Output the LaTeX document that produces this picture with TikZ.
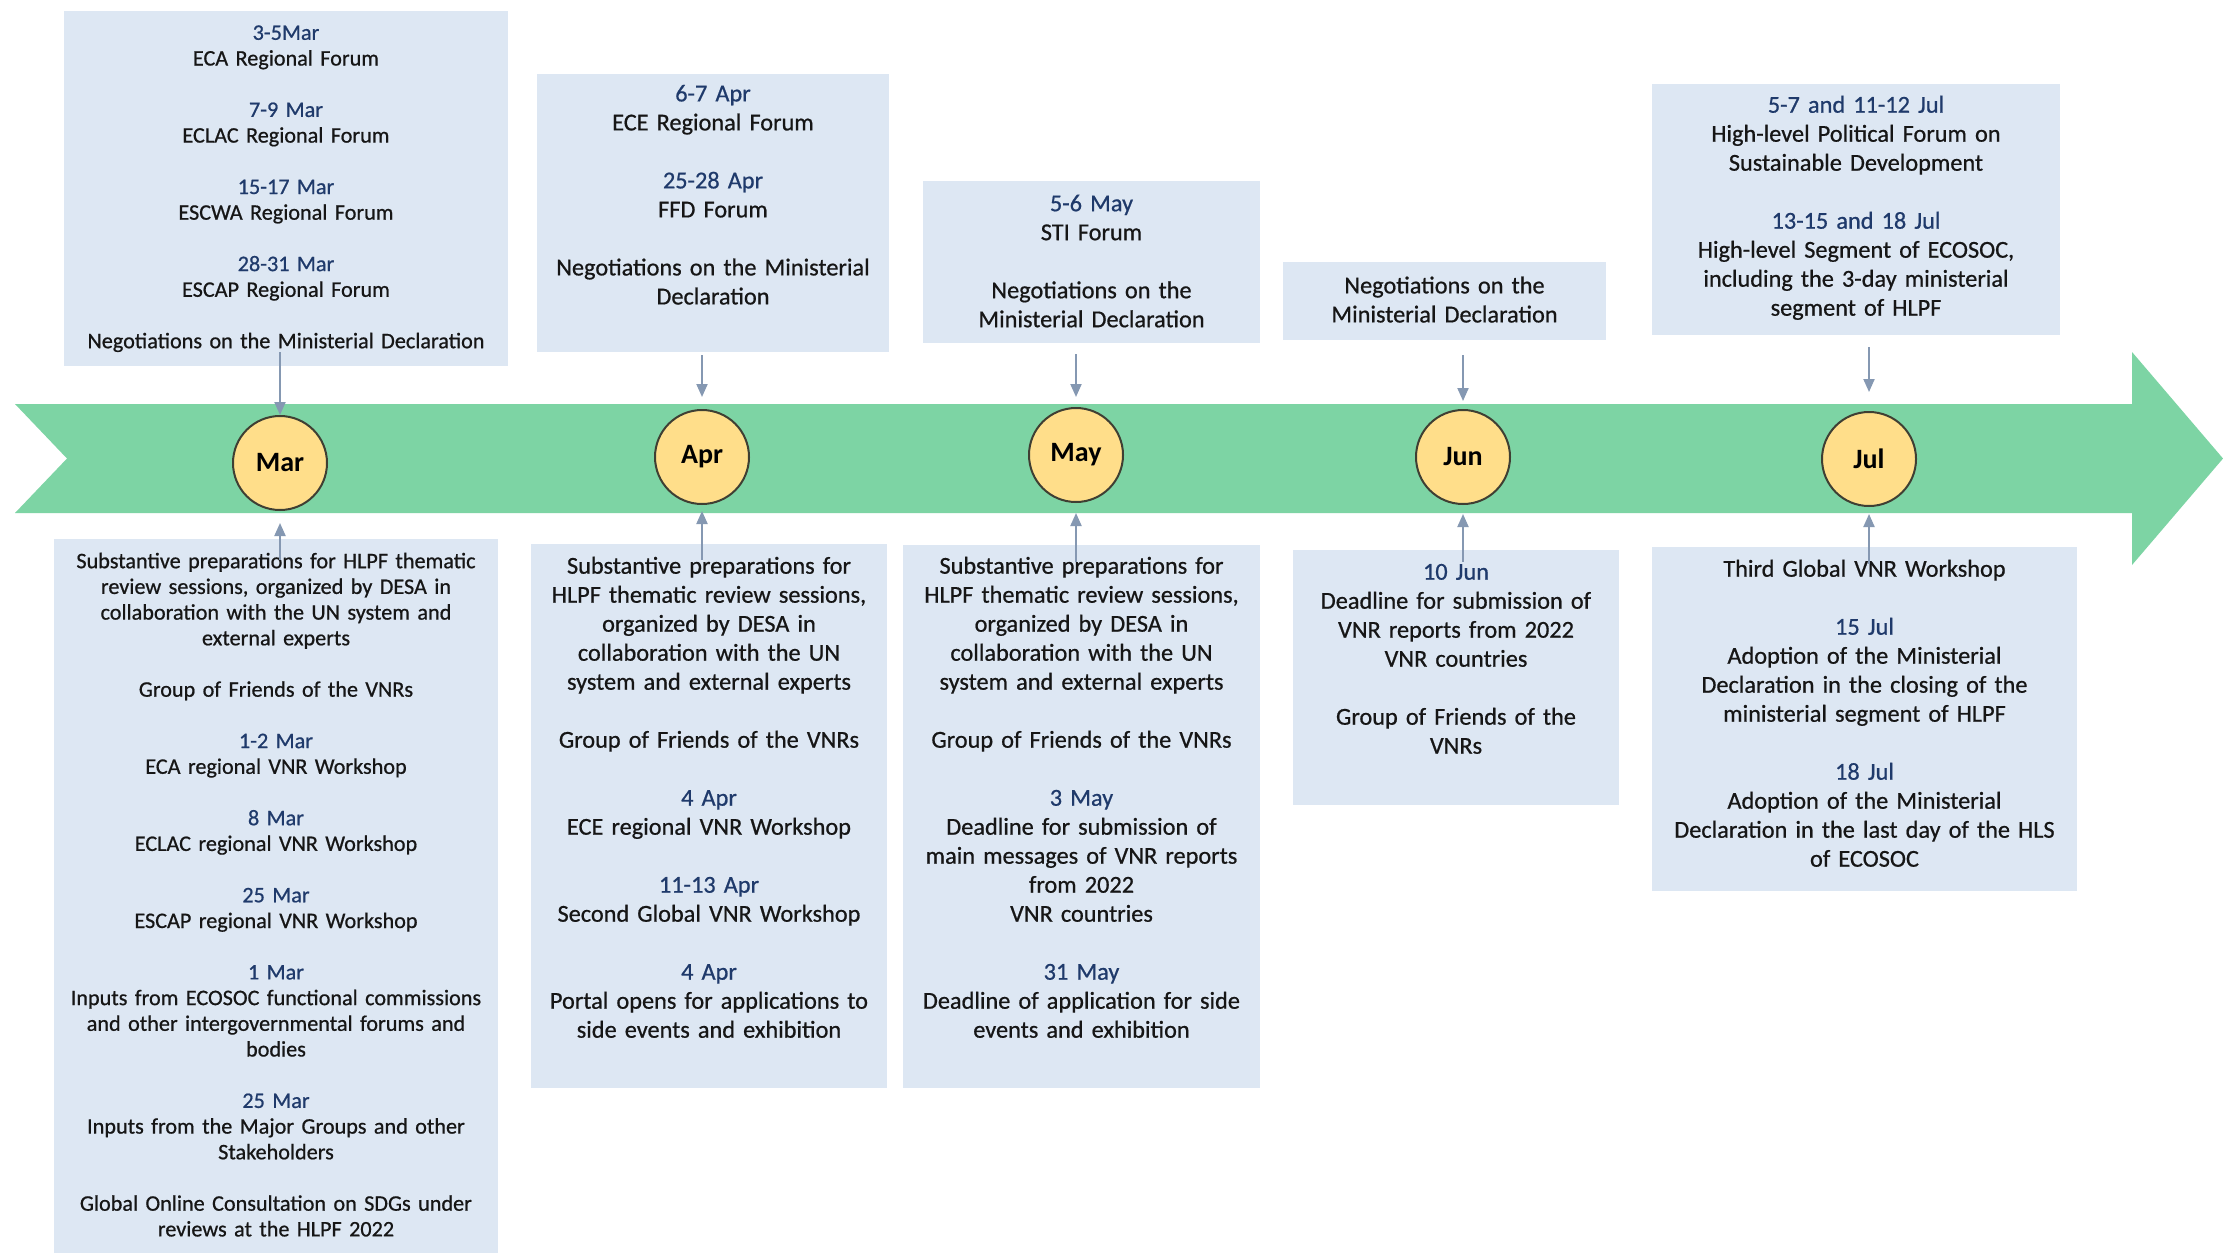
\documentclass[tikz,border=0pt]{standalone}
\usepackage{fontspec}
\setmainfont{Carlito}
\newfontfamily\boxfont{Carlito}[FakeBold=0.7]
\usetikzlibrary{arrows.meta,fit}
\definecolor{boxc}{HTML}{DDE7F3}
\definecolor{bandc}{HTML}{7DD4A4}
\definecolor{monc}{HTML}{FFDE8A}
\definecolor{monl}{HTML}{3F3F33}
\definecolor{arrc}{HTML}{8598B2}
\definecolor{datec}{HTML}{1F3A6B}
\definecolor{txtc}{HTML}{161616}
\newcommand{\dt}[1]{\textcolor{datec}{#1}}
\newcommand{\bl}{\\[\baselineskip]}
\begin{document}
\begin{tikzpicture}[x=1pt,y=-1pt,
  box/.style={fill=boxc, draw=none, inner sep=0pt},
  txtS/.style={anchor=base, align=center, text=txtc, inner sep=0pt, font=\boxfont\fontsize{22.2}{25.7}\selectfont},
  txtL/.style={anchor=base, align=center, text=txtc, inner sep=0pt, font=\boxfont\fontsize{24.3}{29}\selectfont},
  mon/.style={circle, fill=monc, draw=monl, line width=2pt, minimum size=94pt, inner sep=0pt, text=black, font=\bfseries\fontsize{28}{30}\selectfont},
  arr/.style={draw=arrc, line width=2pt, -{Triangle[length=13pt,width=11pt]}}]
\fill[white] (0,0) rectangle (2223,1253);
\useasboundingbox (0,0) rectangle (2223,1253);
% band
\fill[bandc] (15,404) -- (2132,404) -- (2132,352) -- (2223,458.5) -- (2132,565) -- (2132,513) -- (15,513) -- (67,458.5) -- cycle;
% boxes
\node[box, fit={(64,11) (508,366)}] (marT) {};
\node[box, fit={(537,74) (889,352)}] (aprT) {};
\node[box, fit={(923,181) (1260,343)}] (mayT) {};
\node[box, fit={(1283,262) (1606,340)}] (junT) {};
\node[box, fit={(1652,84) (2060,335)}] (julT) {};
\node[box, fit={(54,539) (498,1253)}] (marB) {};
\node[box, fit={(531,544) (887,1088)}] (aprB) {};
\node[box, fit={(903,545) (1260,1088)}] (mayB) {};
\node[box, fit={(1293,550) (1619,805)}] (junB) {};
\node[box, fit={(1652,547) (2077,891)}] (julB) {};
% texts
\node[txtS, text width=436pt] (marTt) at (286,39.8) {\dt{3-5Mar}\\ ECA Regional Forum\bl \dt{7-9 Mar}\\ ECLAC Regional Forum\bl \dt{15-17 Mar}\\ ESCWA Regional Forum\bl \dt{28-31 Mar}\\ ESCAP Regional Forum\bl Negotiations on the Ministerial Declaration};
\node[txtL, text width=344pt] (aprTt) at (713,101.4) {\dt{6-7 Apr}\\ ECE Regional Forum\bl \dt{25-28 Apr}\\ FFD Forum\bl Negotiations on the Ministerial\\ Declaration};
\node[txtL, text width=330pt] (mayTt) at (1091.5,211.2) {\dt{5-6 May}\\ STI Forum\bl Negotiations on the\\ Ministerial Declaration};
\node[txtL, text width=316pt] (junTt) at (1444.5,293.4) {Negotiations on the\\ Ministerial Declaration};
\node[txtL, text width=400pt] (julTt) at (1856,112.7) {\dt{5-7 and 11-12 Jul}\\ High-level Political Forum on\\ Sustainable Development\bl \dt{13-15 and 18 Jul}\\ High-level Segment of ECOSOC,\\ including the 3-day ministerial\\ segment of HLPF};
\node[txtS, text width=436pt] (marBt) at (276,568.2) {Substantive preparations for HLPF thematic\\ review sessions, organized by DESA in\\ collaboration with the UN system and\\ external experts\bl Group of Friends of the VNRs\bl \dt{1-2 Mar}\\ ECA regional VNR Workshop\bl \dt{8 Mar}\\ ECLAC regional VNR Workshop\bl \dt{25 Mar}\\ ESCAP regional VNR Workshop\bl \dt{1 Mar}\\ Inputs from ECOSOC functional commissions\\ and other intergovernmental forums and\\ bodies\bl \dt{25 Mar}\\ Inputs from the Major Groups and other\\ Stakeholders\bl Global Online Consultation on SDGs under\\ reviews at the HLPF 2022};
\node[txtL, text width=350pt] (aprBt) at (709,573.7) {Substantive preparations for\\ HLPF thematic review sessions,\\ organized by DESA in\\ collaboration with the UN\\ system and external experts\bl Group of Friends of the VNRs\bl \dt{4 Apr}\\ ECE regional VNR Workshop\bl \dt{11-13 Apr}\\ Second Global VNR Workshop\bl \dt{4 Apr}\\ Portal opens for applications to\\ side events and exhibition};
\node[txtL, text width=350pt] (mayBt) at (1081.5,573.7) {Substantive preparations for\\ HLPF thematic review sessions,\\ organized by DESA in\\ collaboration with the UN\\ system and external experts\bl Group of Friends of the VNRs\bl \dt{3 May}\\ Deadline for submission of\\ main messages of VNR reports\\ from 2022\\ VNR countries\bl \dt{31 May}\\ Deadline of application for side\\ events and exhibition};
\node[txtL, text width=320pt] (junBt) at (1456,579.7) {\dt{10 Jun}\\ Deadline for submission of\\ VNR reports from 2022\\ VNR countries\bl Group of Friends of the\\ VNRs};
\node[txtL, text width=418pt] (julBt) at (1864.5,576.7) {Third Global VNR Workshop\bl \dt{15 Jul}\\ Adoption of the Ministerial\\ Declaration in the closing of the\\ ministerial segment of HLPF\bl \dt{18 Jul}\\ Adoption of the Ministerial\\ Declaration in the last day of the HLS\\ of ECOSOC};
% month circles
\node[mon] (marC) at (280,463) {\raisebox{-7pt}{Mar}};
\node[mon] (aprC) at (702,457) {Apr};
\node[mon] (mayC) at (1076,455) {\raisebox{-3pt}{May}};
\node[mon] (junC) at (1463,457) {\raisebox{-4pt}{Jun}};
\node[mon] (julC) at (1869,459) {Jul};
% arrows from top boxes
\draw[arr] ([yshift=14pt]marT.south -| marC.north) -- (marC.north);
\draw[arr] ([yshift=-3pt]aprT.south -| aprC.north) -- ([yshift=12pt]aprC.north);
\draw[arr] ([yshift=-11pt]mayT.south -| mayC.north) -- ([yshift=10pt]mayC.north);
\draw[arr] ([yshift=-15pt]junT.south -| junC.north) -- ([yshift=8pt]junC.north);
\draw[arr] ([yshift=-12pt]julT.south -| julC.north) -- ([yshift=19pt]julC.north);
% arrows from bottom boxes
\draw[arr] ([yshift=-21pt]marB.north -| marC.south) -- ([yshift=-12pt]marC.south);
\draw[arr] ([yshift=-16pt]aprB.north -| aprC.south) -- ([yshift=-6pt]aprC.south);
\draw[arr] ([yshift=-17pt]mayB.north -| mayC.south) -- ([yshift=-10pt]mayC.south);
\draw[arr] ([yshift=-12pt]junB.north -| junC.south) -- ([yshift=-9pt]junC.south);
\draw[arr] ([yshift=-17pt]julB.north -| julC.south) -- ([yshift=-7pt]julC.south);
\end{tikzpicture}
\end{document}
